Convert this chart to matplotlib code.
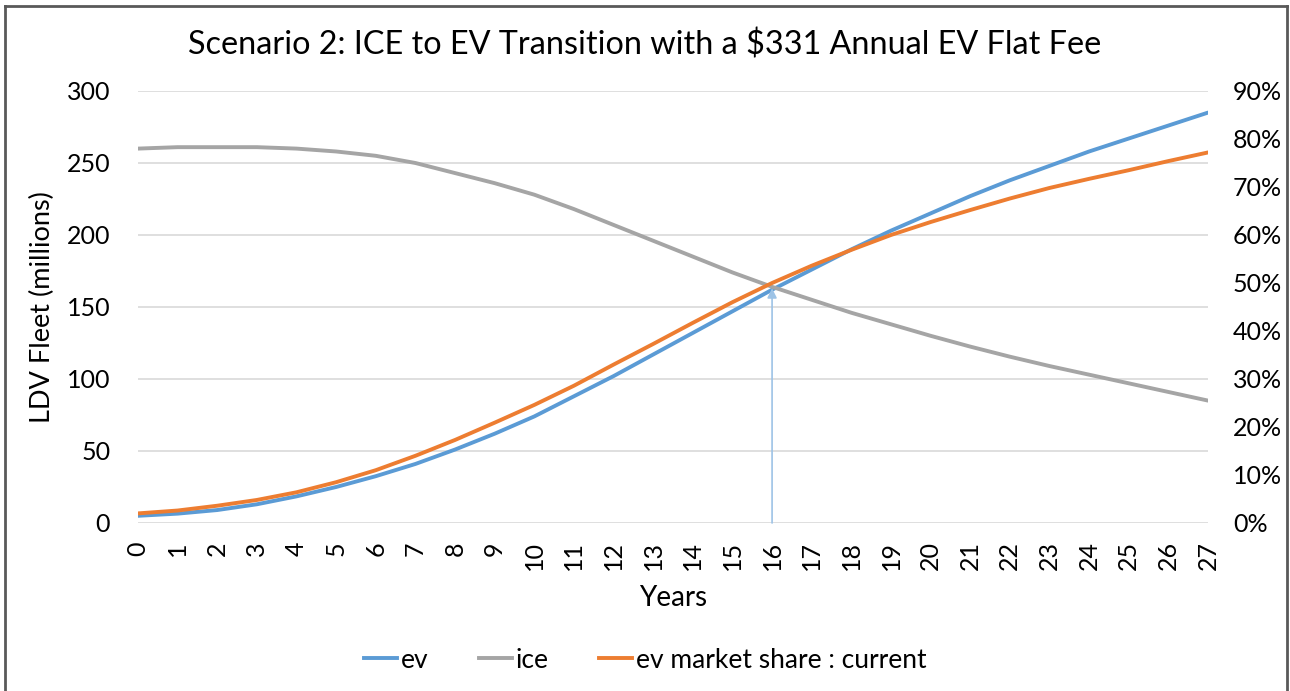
import matplotlib
matplotlib.use("Agg")
import matplotlib.pyplot as plt
from matplotlib.lines import Line2D
from matplotlib.ticker import FuncFormatter

plt.rcParams['font.family'] = ['Lato', 'DejaVu Sans']

years = list(range(28))
ev = [5, 6.5, 9, 13, 18.5, 25, 32.5, 41, 51, 62, 74, 88, 102, 117, 132, 147,
      162, 176, 190, 203, 215, 227, 238, 248, 258, 267, 276, 285]
ice = [260, 261, 261, 261, 260, 258, 255, 250, 243, 236, 228, 218, 207, 196,
       185, 174, 164, 155, 146, 138, 130, 122.5, 115.5, 109, 103, 97, 91, 85]
ev_share = [2.0, 2.6, 3.6, 4.8, 6.4, 8.5, 11.0, 14.0, 17.3, 20.9, 24.6, 28.6,
            33.0, 37.3, 41.7, 46.0, 50.0, 53.6, 56.9, 60.0, 62.7, 65.2, 67.6,
            69.8, 71.7, 73.5, 75.4, 77.2]
crossover_year = 16
crossover_value = 163

c_ev = '#5B9BD5'
c_ice = '#A5A5A5'
c_share = '#ED7D31'

fig = plt.figure(figsize=(12.9, 6.91), dpi=100)
ax = fig.add_axes([138 / 1290, 1 - 523 / 691, (1208 - 138) / 1290, (523 - 91) / 691])
ax2 = ax.twinx()

ax.plot(years, ev, color=c_ev, lw=2.8, solid_capstyle='round')
ax.plot(years, ice, color=c_ice, lw=2.8, solid_capstyle='round')
ax2.plot(years, ev_share, color=c_share, lw=2.8, solid_capstyle='round')

ax.annotate('', xy=(crossover_year, crossover_value), xytext=(crossover_year, 0),
            arrowprops=dict(arrowstyle='-|>', color='#9DC3E6', lw=1.2,
                            mutation_scale=14, shrinkA=0, shrinkB=0))

ax.set_xlim(0, 27)
ax.set_ylim(0, 300)
ax2.set_ylim(0, 90)
ax.set_xticks(years)
ax.set_xticklabels([str(y) for y in years], rotation=90)
ax.set_yticks(range(0, 301, 50))
ax2.set_yticks(range(0, 91, 10))
ax2.yaxis.set_major_formatter(FuncFormatter(lambda v, p: f'{int(v)}%'))

ax.grid(axis='y', color='#D9D9D9', lw=1.2)
ax.set_axisbelow(True)
for a in (ax, ax2):
    for s in a.spines.values():
        s.set_visible(False)
    a.tick_params(length=0, labelsize=18, colors='black')
ax.tick_params(axis='x', pad=13)
ax.tick_params(axis='y', pad=20)
ax2.tick_params(axis='y', pad=18)

ax.set_xlabel('Years', fontsize=20, labelpad=11)
ax.set_ylabel('LDV Fleet (millions)', fontsize=19.5, labelpad=8)
fig.text(0.5, 1 - 45 / 691, 'Scenario 2: ICE to EV Transition with a $331 Annual EV Flat Fee',
         ha='center', va='center', fontsize=23.3)

handles = [Line2D([], [], color=c_ev, lw=2.8),
           Line2D([], [], color=c_ice, lw=2.8),
           Line2D([], [], color=c_share, lw=2.8)]
fig.legend(handles, ['ev', 'ice', 'ev market share : current'], loc='center',
           bbox_to_anchor=(0.5, 1 - 660 / 691), ncol=3, frameon=False, fontsize=19,
           handlelength=1.25, handletextpad=0.15, columnspacing=1.9)

# outer chart frame
for xs, ys in [([5 / 1290, 5 / 1290], [0, 1 - 6 / 691]),
               ([5 / 1290, 1287 / 1290], [1 - 6 / 691, 1 - 6 / 691]),
               ([1287 / 1290, 1287 / 1290], [0, 1 - 6 / 691])]:
    fig.add_artist(Line2D(xs, ys, color='#595959', lw=2, transform=fig.transFigure))

fig.savefig('out.png', dpi=100)
